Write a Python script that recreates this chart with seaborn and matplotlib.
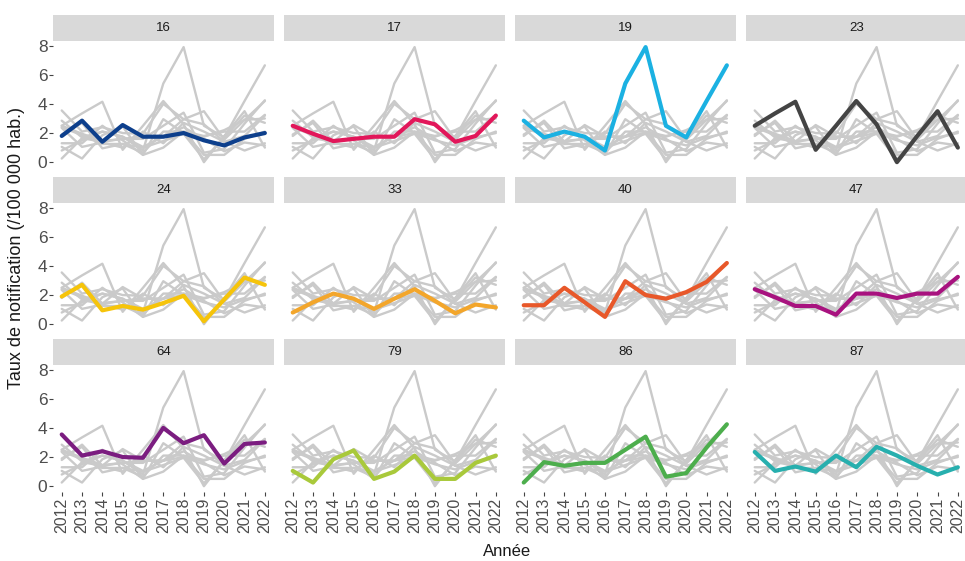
import numpy as np
import pandas as pd
import matplotlib
matplotlib.use("Agg")
import matplotlib.pyplot as plt
import seaborn as sns
from matplotlib.patches import Rectangle

sns.set_theme(style="white")
plt.rcParams['font.family'] = ['Liberation Sans', 'DejaVu Sans']

years = list(range(2012, 2023))
departements = ["16", "17", "19", "23", "24", "33", "40", "47", "64", "79", "86", "87"]

taux_16 = [1.8, 2.85, 1.4, 2.55, 1.75, 1.75, 2.0, 1.5, 1.15, 1.7, 2.0]
taux_17 = [2.5, 1.95, 1.45, 1.6, 1.75, 1.75, 2.95, 2.6, 1.4, 1.8, 3.2]
taux_19 = [2.85, 1.7, 2.1, 1.75, 0.8, 5.4, 7.9, 2.5, 1.7, 4.2, 6.65]
taux_23 = [2.5, 3.35, 4.15, 0.85, 2.5, 4.2, 2.6, 0.0, 1.8, 3.5, 1.0]
taux_24 = [1.9, 2.7, 0.95, 1.25, 1.0, 1.45, 1.95, 0.2, 1.7, 3.2, 2.7]
taux_33 = [0.8, 1.5, 2.1, 1.75, 1.05, 1.75, 2.4, 1.6, 0.75, 1.35, 1.15]
taux_40 = [1.3, 1.3, 2.5, 1.5, 0.5, 2.95, 2.0, 1.75, 2.2, 2.9, 4.2]
taux_47 = [2.4, 1.85, 1.25, 1.25, 0.65, 2.1, 2.1, 1.8, 2.1, 2.1, 3.25]
taux_64 = [3.55, 2.1, 2.4, 2.0, 1.95, 4.0, 2.95, 3.5, 1.55, 2.9, 3.0]
taux_79 = [1.05, 0.25, 1.85, 2.45, 0.5, 1.0, 2.1, 0.5, 0.5, 1.6, 2.1]
taux_86 = [0.25, 1.65, 1.4, 1.6, 1.6, 2.5, 3.4, 0.65, 0.9, 2.65, 4.25]
taux_87 = [2.35, 1.05, 1.35, 1.0, 2.1, 1.3, 2.7, 2.1, 1.4, 0.8, 1.3]

series = [taux_16, taux_17, taux_19, taux_23, taux_24, taux_33,
          taux_40, taux_47, taux_64, taux_79, taux_86, taux_87]

couleurs = ["#0D3F8C", "#E2175A", "#1BB1E2", "#444444", "#F6C40A", "#F3A62B",
            "#E8582A", "#A8127F", "#7B1D80", "#A9C93B", "#4DAE4D", "#27AFAE"]

df = pd.DataFrame({
    "annee": np.tile(years, len(departements)),
    "dep": np.repeat(departements, len(years)),
    "taux": np.concatenate(series),
})

fig, axes = plt.subplots(3, 4, figsize=(9.65, 5.61), dpi=100, sharex=True, sharey=True)
fig.subplots_adjust(left=53/965, right=967/965, top=1-41/561, bottom=1-492/561,
                    hspace=35/127, wspace=10/221)

for i, dep in enumerate(departements):
    ax = axes.flat[i]
    for other in departements:
        sub = df[df["dep"] == other]
        sns.lineplot(data=sub, x="annee", y="taux", ax=ax, color="#CACACA",
                     linewidth=1.7, legend=False, zorder=1)
    sub = df[df["dep"] == dep]
    sns.lineplot(data=sub, x="annee", y="taux", ax=ax, color=couleurs[i],
                 linewidth=3.0, legend=False, zorder=3)
    ax.set_xlim(2011.57, 2022.45)
    ax.set_ylim(-0.4, 8.32)
    ax.set_xticks(years)
    ax.set_yticks([0, 2, 4, 6, 8])
    ax.set_xlabel("")
    ax.set_ylabel("")
    for s in ax.spines.values():
        s.set_visible(False)
    ax.tick_params(axis="both", which="both", length=3, width=0.8, color="#444444",
                   labelcolor="#4D4D4D", pad=1)
    ax.tick_params(axis="x", labelrotation=90, labelsize=11.5)
    ax.tick_params(axis="y", labelsize=12.5)
    if i % 4 != 0:
        ax.tick_params(axis="y", left=False)
    else:
        ax.tick_params(axis="y", left=True)
    if i < 8:
        ax.tick_params(axis="x", bottom=False)
    else:
        ax.tick_params(axis="x", bottom=True)
    rect = Rectangle((0, 1.0), 1, 26/127, transform=ax.transAxes, clip_on=False,
                     facecolor="#D9D9D9", edgecolor="none", zorder=0)
    ax.add_patch(rect)
    ax.text(0.5, 1.0 + 13/127, dep, transform=ax.transAxes, ha="center", va="center",
            fontsize=9.5, color="#1A1A1A")

fig.text(507/965, 1-552/561, "Année", ha="center", va="center", fontsize=12, color="#1A1A1A")
fig.text(17/965, 1-248/561, "Taux de notification (/100 000 hab.)", ha="center", va="center",
         rotation=90, fontsize=13, color="#1A1A1A")

fig.savefig("out.png", dpi=100)
